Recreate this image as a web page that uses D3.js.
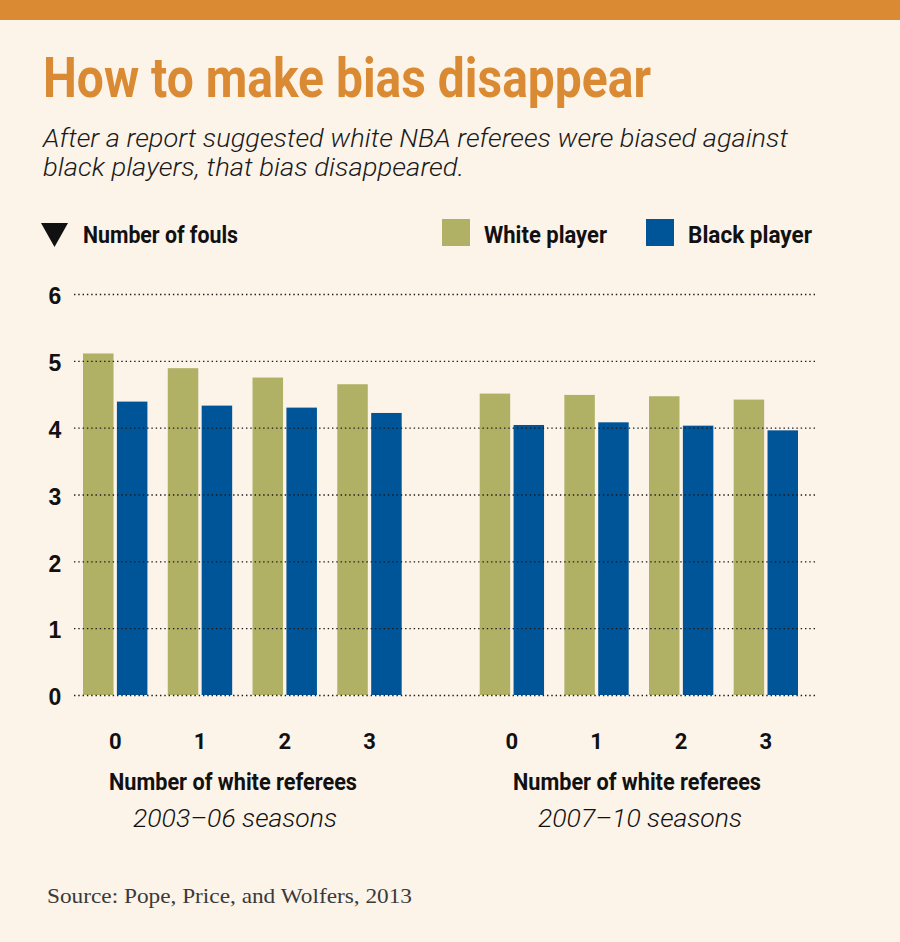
<!DOCTYPE html>
<html>
<head>
<meta charset="utf-8">
<script src="https://cdn.jsdelivr.net/npm/d3@7"></script>
<style>
  html, body { margin: 0; padding: 0; background: #FCF3E9; }
  svg { display: block; }
</style>
</head>
<body>
<svg id="chart" width="900" height="942"></svg>
<script>
// ---- Data ----
const refereeCounts = ["0", "1", "2", "3"];
const seriesNames = ["White player", "Black player"];
const periods = ["2003–06 seasons", "2007–10 seasons"];
const white2003 = [5.11, 4.89, 4.75, 4.65];
const black2003 = [4.39, 4.33, 4.30, 4.22];
const white2007 = [4.51, 4.49, 4.47, 4.42];
const black2007 = [4.04, 4.08, 4.03, 3.96];
const yTicks = [0, 1, 2, 3, 4, 5, 6];

const panels = [
  { label: periods[0], white: white2003, black: black2003 },
  { label: periods[1], white: white2007, black: black2007 }
];

// ---- Styles / layout ----
const colors = { "White player": "#B1B166", "Black player": "#005598" };
const orange = "#D98A32";
const condensed = "'Liberation Sans Narrow', Roboto, 'DejaVu Sans', sans-serif";

const svg = d3.select("#chart");
svg.append("rect").attr("width", 900).attr("height", 942).attr("fill", "#FCF3E9");
svg.append("rect").attr("width", 900).attr("height", 20).attr("fill", orange);

// Title
svg.append("text")
  .attr("x", 43).attr("y", 97)
  .attr("font-family", condensed).attr("font-weight", 700)
  .attr("font-size", 55).attr("fill", orange)
  .attr("textLength", 608).attr("lengthAdjust", "spacingAndGlyphs")
  .text("How to make bias disappear");

// Subtitle
const sub = [
  { t: "After a report suggested white NBA referees were biased against", y: 147, w: 745 },
  { t: "black players, that bias disappeared.", y: 176, w: 421 }
];
sub.forEach(s => {
  svg.append("text")
    .attr("x", 43).attr("y", s.y)
    .attr("font-family", condensed).attr("font-style", "italic").attr("font-weight", 300)
    .attr("font-size", 26).attr("fill", "#1a1a1a")
    .attr("textLength", s.w).attr("lengthAdjust", "spacingAndGlyphs")
    .text(s.t);
});

// Y-axis label with triangle
svg.append("path")
  .attr("d", d3.line()([[41, 223], [68, 223], [54.5, 247]]) + "Z")
  .attr("fill", "#111");
svg.append("text")
  .attr("x", 83).attr("y", 243)
  .attr("font-family", condensed).attr("font-weight", 700)
  .attr("font-size", 23).attr("fill", "#111")
  .attr("textLength", 155).attr("lengthAdjust", "spacingAndGlyphs")
  .text("Number of fouls");

// Legend
const legendItems = [
  { name: seriesNames[0], x: 442, w: 123 },
  { name: seriesNames[1], x: 646, w: 124 }
];
legendItems.forEach(l => {
  svg.append("rect").attr("x", l.x).attr("y", 219).attr("width", 28).attr("height", 27)
    .attr("fill", colors[l.name]);
  svg.append("text")
    .attr("x", l.x + 42).attr("y", 243)
    .attr("font-family", condensed).attr("font-weight", 700)
    .attr("font-size", 23).attr("fill", "#111")
    .attr("textLength", l.w).attr("lengthAdjust", "spacingAndGlyphs")
    .text(l.name);
});

// Scales
const y = d3.scaleLinear().domain([0, 6]).range([695, 294]);
const panelRanges = [[83, 401.7], [479.7, 798]];
const labelCenters = [[233, 235], [637, 640]];
const inner = d3.scaleBand().domain(seriesNames).range([0, 64.4]).paddingInner(0.1);

// Bars
panels.forEach((p, i) => {
  const x = d3.scaleBand().domain(refereeCounts).range(panelRanges[i]).paddingInner(0.24).paddingOuter(0);
  inner.range([0, x.bandwidth()]);
  const rows = refereeCounts.map((c, j) => ({ c, vals: [
    { s: seriesNames[0], v: p.white[j] },
    { s: seriesNames[1], v: p.black[j] }
  ]}));
  const g = svg.append("g");
  const grp = g.selectAll("g").data(rows).join("g")
    .attr("transform", d => `translate(${x(d.c)},0)`);
  grp.selectAll("rect").data(d => d.vals).join("rect")
    .attr("x", d => inner(d.s))
    .attr("width", inner.bandwidth())
    .attr("y", d => y(d.v))
    .attr("height", d => y(0) - y(d.v))
    .attr("fill", d => colors[d.s]);

  // x axis tick labels
  const xAxis = d3.axisBottom(x).tickSize(0).tickPadding(0);
  const ax = svg.append("g").attr("transform", "translate(0,733)").call(xAxis);
  ax.select(".domain").remove();
  ax.selectAll("text")
    .attr("font-family", condensed).attr("font-weight", 700)
    .attr("font-size", 22).attr("fill", "#111").attr("dy", "0.71em");

  svg.append("text")
    .attr("x", labelCenters[i][0]).attr("y", 790).attr("text-anchor", "middle")
    .attr("font-family", condensed).attr("font-weight", 700)
    .attr("font-size", 23).attr("fill", "#111")
    .attr("textLength", 248).attr("lengthAdjust", "spacingAndGlyphs")
    .text("Number of white referees");
  svg.append("text")
    .attr("x", labelCenters[i][1]).attr("y", 827).attr("text-anchor", "middle")
    .attr("font-family", condensed).attr("font-style", "italic").attr("font-weight", 300)
    .attr("font-size", 25).attr("fill", "#111")
    .attr("textLength", 204).attr("lengthAdjust", "spacingAndGlyphs")
    .text(p.label);
});

// Gridlines (drawn over bars) + y labels
const yAxis = d3.axisLeft(y).tickValues(yTicks).tickFormat(d3.format("d"))
  .tickSize(-(816 - 74)).tickPadding(11);
const yg = svg.append("g").attr("transform", "translate(74,0)").call(yAxis);
yg.select(".domain").remove();
yg.selectAll(".tick line")
  .attr("stroke", "#1a1a1a").attr("stroke-width", 1.4)
  .attr("stroke-dasharray", "1.4,2.9");
yg.selectAll(".tick text")
  .attr("x", -19).attr("text-anchor", "middle").attr("dy", "0.42em")
  .attr("font-family", "'Liberation Sans', Arial, sans-serif").attr("font-weight", 700)
  .attr("font-size", 23).attr("fill", "#111");

// Source
svg.append("text")
  .attr("x", 47).attr("y", 903)
  .attr("font-family", "'Liberation Serif', 'DejaVu Serif', serif")
  .attr("font-size", 22).attr("fill", "#3a3a3a")
  .attr("textLength", 365).attr("lengthAdjust", "spacingAndGlyphs")
  .text("Source: Pope, Price, and Wolfers, 2013");
</script>
</body>
</html>
